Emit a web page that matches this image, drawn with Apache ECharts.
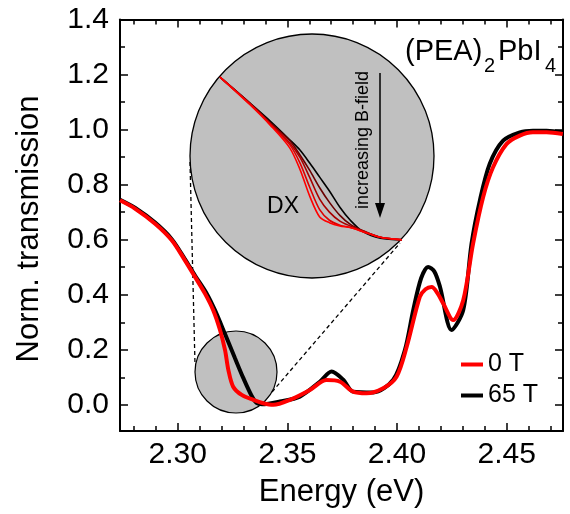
<!DOCTYPE html>
<html>
<head>
<meta charset="utf-8">
<script src="https://cdn.jsdelivr.net/npm/echarts@6/dist/echarts.min.js"></script>
<style>
html,body{margin:0;padding:0;background:#fff;}
#c{width:570px;height:514px;}
</style>
</head>
<body>
<div id="c"></div>
<script>
// ---- data ----
var energy0T = [2.2737, 2.2805, 2.2897, 2.2973, 2.3033, 2.3079, 2.3124, 2.3162, 2.3193, 2.3216, 2.3231, 2.3253, 2.3292, 2.3345, 2.3390, 2.3436, 2.3512, 2.3603, 2.3679, 2.3740, 2.3800, 2.3861, 2.3937, 2.3998, 2.4044, 2.4104, 2.4130, 2.4158, 2.4185, 2.4211, 2.4256, 2.4302, 2.4347, 2.4393, 2.4438, 2.4500, 2.4560, 2.4620, 2.4682, 2.4756];
var trans0T  = [0.743, 0.713, 0.658, 0.598, 0.525, 0.465, 0.405, 0.344, 0.272, 0.199, 0.127, 0.066, 0.036, 0.018, 0.006, 0.000, 0.018, 0.054, 0.090, 0.084, 0.048, 0.042, 0.060, 0.102, 0.210, 0.392, 0.420, 0.428, 0.405, 0.368, 0.308, 0.380, 0.586, 0.755, 0.863, 0.948, 0.978, 0.990, 0.990, 0.984];
var energy65T = [2.2737, 2.2805, 2.2897, 2.2973, 2.3033, 2.3079, 2.3132, 2.3170, 2.3216, 2.3261, 2.3299, 2.3337, 2.3360, 2.3384, 2.3466, 2.3557, 2.3648, 2.3702, 2.3755, 2.3800, 2.3892, 2.3983, 2.4036, 2.4074, 2.4110, 2.4142, 2.4170, 2.4196, 2.4249, 2.4302, 2.4340, 2.4378, 2.4423, 2.4484, 2.4560, 2.4620, 2.4682, 2.4756];
var trans65T  = [0.745, 0.716, 0.662, 0.602, 0.530, 0.470, 0.405, 0.344, 0.257, 0.170, 0.098, 0.033, 0.007, 0.002, 0.012, 0.030, 0.084, 0.121, 0.091, 0.048, 0.045, 0.091, 0.199, 0.344, 0.460, 0.501, 0.485, 0.429, 0.272, 0.344, 0.586, 0.743, 0.876, 0.960, 0.990, 0.996, 0.996, 0.990];

// inset (magnified DX region), field series from 65 T down to 0 T
var insetEnergy = [2.3143, 2.3186, 2.3215, 2.3243, 2.3258, 2.3272, 2.3286, 2.3300, 2.3315, 2.3330, 2.3348, 2.3373, 2.3404];
var insetCurves = [
  [0.247, 0.215, 0.193, 0.170, 0.157, 0.141, 0.124, 0.107, 0.087, 0.071, 0.057, 0.049, 0.047],
  [0.247, 0.215, 0.191, 0.169, 0.151, 0.132, 0.111, 0.093, 0.077, 0.066, 0.058, 0.050, 0.047],
  [0.247, 0.214, 0.190, 0.166, 0.148, 0.123, 0.097, 0.081, 0.070, 0.064, 0.058, 0.050, 0.047],
  [0.247, 0.214, 0.189, 0.164, 0.141, 0.111, 0.084, 0.071, 0.065, 0.062, 0.057, 0.050, 0.047],
  [0.247, 0.213, 0.188, 0.160, 0.133, 0.100, 0.075, 0.068, 0.064, 0.062, 0.057, 0.050, 0.047]
];
var insetColors = ['#000000', '#6a0000', '#a80000', '#dd0000', '#ff0000'];

var seriesNames = ['0 T', '65 T'];
var xMajor = [2.30, 2.35, 2.40, 2.45];
var xMinor = [2.28, 2.29, 2.31, 2.32, 2.33, 2.34, 2.36, 2.37, 2.38, 2.39, 2.41, 2.42, 2.43, 2.44, 2.46, 2.47];
var yMajor = [0.0, 0.2, 0.4, 0.6, 0.8, 1.0, 1.2, 1.4];
var yMinor = [0.1, 0.3, 0.5, 0.7, 0.9, 1.1, 1.3];

function pairs(xs, ys) { return xs.map(function (x, i) { return [x, ys[i]]; }); }

var FONT = 'Liberation Sans, Arial, sans-serif';
var X_MIN = 2.2737, X_MAX = 2.4757, Y_MIN = -0.095, Y_MAX = 1.4;

function xAx(pos, ticks, len, labels, showLine) {
  return {
    type: 'value', gridIndex: 0, position: pos, min: X_MIN, max: X_MAX,
    axisLine: { show: showLine, onZero: false, lineStyle: { color: '#000', width: 2 } },
    axisTick: { show: true, inside: true, length: len, customValues: ticks, lineStyle: { color: '#000', width: 1.5 } },
    axisLabel: labels ? { show: true, customValues: ticks, color: '#000', fontSize: 30, fontFamily: FONT, margin: 9,
      formatter: function (v) { return v.toFixed(2); } } : { show: false },
    splitLine: { show: false }
  };
}
function yAx(pos, ticks, len, labels, showLine) {
  return {
    type: 'value', gridIndex: 0, position: pos, min: Y_MIN, max: Y_MAX,
    axisLine: { show: showLine, onZero: false, lineStyle: { color: '#000', width: 2 } },
    axisTick: { show: true, inside: true, length: len, customValues: ticks, lineStyle: { color: '#000', width: 1.5 } },
    axisLabel: labels ? { show: true, customValues: ticks, color: '#000', fontSize: 30, fontFamily: FONT, margin: 11,
      formatter: function (v) { return v.toFixed(1); } } : { show: false },
    splitLine: { show: false }
  };
}

var xAxes = [
  xAx('bottom', xMajor, 8, true, true),
  xAx('bottom', xMinor, 5, false, false),
  xAx('top', xMajor, 8, false, true),
  xAx('top', xMinor, 5, false, false),
  { type: 'value', gridIndex: 1, min: 2.310, max: 2.345, show: false }
];
xAxes[0].name = 'Energy (eV)';
xAxes[0].nameLocation = 'middle';
xAxes[0].nameGap = 46;
xAxes[0].nameTextStyle = { color: '#000', fontSize: 31, fontFamily: FONT };

var yAxes = [
  yAx('left', yMajor, 8, true, true),
  yAx('left', yMinor, 5, false, false),
  yAx('right', yMajor, 8, false, true),
  yAx('right', yMinor, 5, false, false),
  { type: 'value', gridIndex: 1, min: 0, max: 0.30, show: false }
];

var series = [
  { name: seriesNames[1], type: 'line', xAxisIndex: 0, yAxisIndex: 0, data: pairs(energy65T, trans65T),
    showSymbol: false, smooth: 0.3, lineStyle: { color: '#000', width: 4 }, itemStyle: { color: '#000' }, z: 3 },
  { name: seriesNames[0], type: 'line', xAxisIndex: 0, yAxisIndex: 0, data: pairs(energy0T, trans0T),
    showSymbol: false, smooth: 0.3, lineStyle: { color: '#ff0000', width: 4 }, itemStyle: { color: '#ff0000' }, z: 4 }
];
insetCurves.forEach(function (c, i) {
  series.push({ type: 'line', xAxisIndex: 4, yAxisIndex: 4, data: pairs(insetEnergy, c), showSymbol: false,
    smooth: 0.3, lineStyle: { color: insetColors[i], width: 1.6 }, z: 10, silent: true });
});

var chart = echarts.init(document.getElementById('c'), null, { renderer: 'canvas' });
chart.setOption({
  backgroundColor: '#fff',
  animation: false,
  grid: [
    { left: 120, top: 19.5, width: 443, height: 411.5, containLabel: false, outerBoundsMode: 'none' },
    { left: 190, top: 34, width: 244, height: 244, containLabel: false, outerBoundsMode: 'none' }
  ],
  xAxis: xAxes,
  yAxis: yAxes,
  legend: {
    data: seriesNames, orient: 'vertical', left: 456, top: 347,
    icon: 'rect', itemWidth: 22, itemHeight: 4, itemGap: 6,
    textStyle: { color: '#000', fontSize: 25, fontFamily: FONT, lineHeight: 25 }
  },
  graphic: [
    { type: 'circle', shape: { cx: 236, cy: 372, r: 41 }, style: { fill: '#c0c0c0', stroke: '#000', lineWidth: 1.2 }, z: 0 },
    { type: 'line', shape: { x1: 190, y1: 162, x2: 195, y2: 364 }, style: { stroke: '#000', lineWidth: 1.3, lineDash: [4, 3] }, z: 1 },
    { type: 'line', shape: { x1: 272, y1: 392, x2: 400, y2: 243 }, style: { stroke: '#000', lineWidth: 1.3, lineDash: [4, 3] }, z: 1 },
    { type: 'circle', shape: { cx: 312, cy: 156, r: 122 }, style: { fill: '#c0c0c0', stroke: '#000', lineWidth: 1.3 }, z: 5 },
    { type: 'text', x: 29, y: 229, rotation: Math.PI / 2, style: { text: 'Norm. transmission', font: '31px ' + FONT, fill: '#000', align: 'center', verticalAlign: 'middle' }, z: 20 },
    { type: 'text', x: 283, y: 207, style: { text: 'DX', font: '23px ' + FONT, fill: '#000', align: 'center', verticalAlign: 'middle' }, z: 20 },
    { type: 'text', x: 363, y: 140, rotation: Math.PI / 2, style: { text: 'increasing B-field', font: '18px ' + FONT, fill: '#000', align: 'center', verticalAlign: 'middle' }, z: 20 },
    { type: 'line', shape: { x1: 380, y1: 73, x2: 380, y2: 206 }, style: { stroke: '#000', lineWidth: 1.5 }, z: 20 },
    { type: 'polygon', shape: { points: [[375, 203], [385, 203], [380, 218]] }, style: { fill: '#000' }, z: 20 },
    { type: 'text', x: 405, y: 52, style: { text: '(PEA)', font: '29px ' + FONT, fill: '#000', align: 'left', verticalAlign: 'middle' }, z: 20 },
    { type: 'text', x: 484, y: 66, style: { text: '2', font: '20px ' + FONT, fill: '#000', align: 'left', verticalAlign: 'middle' }, z: 20 },
    { type: 'text', x: 498, y: 52, style: { text: 'PbI', font: '29px ' + FONT, fill: '#000', align: 'left', verticalAlign: 'middle' }, z: 20 },
    { type: 'text', x: 545, y: 66, style: { text: '4', font: '20px ' + FONT, fill: '#000', align: 'left', verticalAlign: 'middle' }, z: 20 }
  ],
  series: series
});
</script>
</body>
</html>
